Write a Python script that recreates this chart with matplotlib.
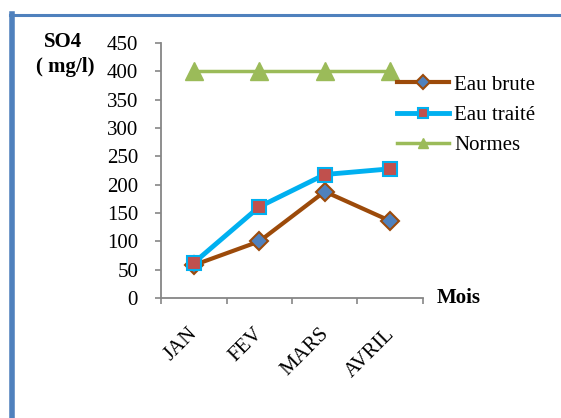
import numpy as np
import matplotlib.pyplot as plt
import matplotlib.transforms as mtransforms
from matplotlib.lines import Line2D

# Données
mois = ["JAN", "FEV", "MARS", "AVRIL"]
eau_brute = [58, 100, 188, 136]
eau_traitee = [62, 161, 218, 228]
normes = [400, 400, 400, 400]

POLICE = "Liberation Serif"
plt.rcParams['font.family'] = POLICE
TAILLE = 15

fig = plt.figure(figsize=(5.61, 4.18), dpi=100)
ax = fig.add_axes([0.287, 0.287, 0.467, 0.610])

x = np.arange(1, len(mois) + 1)

ax.plot(x, eau_brute, color="#9C4A0A", linewidth=3, marker="D", markersize=9,
        markerfacecolor="#4F81BD", markeredgecolor="#9C4A0A", markeredgewidth=1.5,
        label="Eau brute", zorder=3)
ax.plot(x, eau_traitee, color="#00B0F0", linewidth=3.5, marker="s", markersize=10,
        markerfacecolor="#C0504D", markeredgecolor="#00B0F0", markeredgewidth=1.5,
        label="Eau traité", zorder=4)
ax.plot(x, normes, color="#9BBB59", linewidth=2.5, marker="^", markersize=13,
        markerfacecolor="#9BBB59", markeredgecolor="#9BBB59",
        label="Normes", zorder=2)

ax.set_xlim(0.5, 4.5)
ax.set_ylim(0, 450)
ax.set_yticks(np.arange(0, 451, 50))
ax.set_yticklabels([str(v) for v in range(0, 451, 50)], fontsize=TAILLE)
ax.set_xticks(x)
ax.set_xticklabels(mois, rotation=45, ha="right", va="top", fontsize=TAILLE)
ax.set_xticks(np.arange(0.5, 4.6, 1), minor=True)
ax.tick_params(axis="x", which="major", length=0, pad=19)
ax.tick_params(axis="x", which="minor", length=4.5, color="#868686", width=1.2)
ax.tick_params(axis="y", length=4.5, color="#868686", width=1.2, pad=12)
shift = mtransforms.ScaledTranslation(8 / 100, 0, fig.dpi_scale_trans)
for lbl in ax.get_xticklabels():
    lbl.set_transform(lbl.get_transform() + shift)

for s in ["top", "right"]:
    ax.spines[s].set_visible(False)
for s in ["left", "bottom"]:
    ax.spines[s].set_color("#868686")
    ax.spines[s].set_linewidth(1.3)

fig.text(0.112, 0.900, "SO4", fontsize=TAILLE, fontweight="bold", ha="center", va="center")
fig.text(0.116, 0.840, "( mg/l)", fontsize=TAILLE, fontweight="bold", ha="center", va="center")
fig.text(0.779, 0.288, "Mois", fontsize=TAILLE, fontweight="bold", ha="left", va="center")

leg = ax.legend(loc="upper left", bbox_to_anchor=(0.90, 0.875), frameon=False,
                fontsize=TAILLE, handlelength=2.5, handletextpad=0.25,
                labelspacing=0.52, borderaxespad=0, borderpad=0)
for h in leg.legend_handles:
    h.set_markersize(7)

# cadre bleu
fig.add_artist(Line2D([0.022, 0.022], [0.0, 0.966], color="#4F81BD", linewidth=4,
                      transform=fig.transFigure))
fig.add_artist(Line2D([0.018, 1.0], [0.964, 0.964], color="#4F81BD", linewidth=2.2,
                      transform=fig.transFigure))

fig.savefig("out.png", dpi=100)
